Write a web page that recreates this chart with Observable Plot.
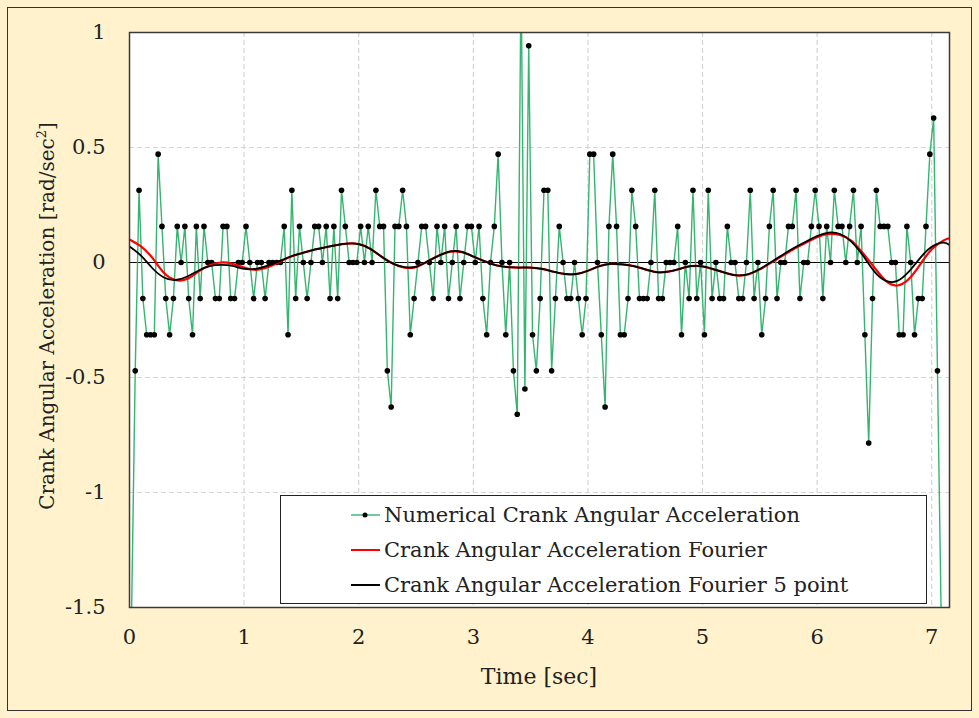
<!DOCTYPE html>
<html><head><meta charset="utf-8">
<script src="https://cdn.jsdelivr.net/npm/d3@7"></script>
<script src="https://cdn.jsdelivr.net/npm/@observablehq/plot@0.6"></script>
<style>
html,body{margin:0;padding:0;background:#fff;}
#wrap{position:relative;width:979px;height:718px;background:#FFF2CC;overflow:hidden;font-family:"DejaVu Serif",serif;color:#222;}
#border{position:absolute;left:7px;top:7px;width:965px;height:704px;border:1.5px solid #333;box-sizing:border-box;}
#chart{position:absolute;left:0;top:0;}
#xtitle{position:absolute;left:539px;top:676px;transform:translate(-50%,-50%);font-size:22px;white-space:nowrap;}
#ytitle{position:absolute;left:47px;top:316px;transform:translate(-50%,-50%) rotate(-90deg);font-size:20px;white-space:nowrap;}
#ytitle sup{font-size:13px;vertical-align:8px;line-height:0;}
#legend{position:absolute;left:280px;top:495px;width:647px;height:109px;border:1.5px solid #222;background:#fff;box-sizing:border-box;}
.row{position:absolute;left:70px;height:30px;display:flex;align-items:center;font-size:21px;white-space:nowrap;}
.row svg{margin-right:4px;}
</style>
</head><body>
<div id="wrap">
  <div id="border"></div>
  <div id="chart"></div>
  <div id="xtitle"></div>
  <div id="ytitle"></div>
  <div id="legend"></div>
</div>
<script>
// ---- data ----
const frameRate = 30;          // samples per second (time stamps at frame mid-points)
const numericalAccel = [
 -1.571,-0.471, 0.314,-0.157,-0.314,-0.314,-0.314, 0.471, 0.157,-0.157,
 -0.314,-0.157, 0.157, 0,     0.157,-0.157,-0.314, 0.157,-0.157, 0.157,
  0,     0,    -0.157,-0.157, 0.157, 0.157,-0.157,-0.157, 0,     0,
  0.157, 0,    -0.157, 0,     0,    -0.157, 0,     0,     0,     0,
  0.157,-0.314, 0.314,-0.157, 0.157, 0,    -0.157, 0,     0.157, 0.157,
  0,     0.157,-0.157, 0.157,-0.157, 0.314, 0.157, 0,     0,     0,
  0.157, 0,     0.157, 0,     0.314, 0.157, 0.157,-0.471,-0.628, 0.157,
  0.157, 0.314, 0.157,-0.314,-0.157, 0,     0.157, 0.157, 0,    -0.157,
  0.157, 0,     0.157,-0.157, 0,     0.157,-0.157, 0,     0.157, 0.157,
  0,     0.157,-0.157,-0.314, 0,     0.157, 0.471, 0,    -0.314, 0,
 -0.471,-0.660, 1.257,-0.550, 0.942,-0.314,-0.471,-0.157, 0.314, 0.314,
 -0.471,-0.157, 0.157, 0,    -0.157,-0.157, 0,    -0.157,-0.314,-0.157,
  0.471, 0.471, 0,    -0.314,-0.628, 0.157, 0.471, 0.157,-0.314,-0.314,
 -0.157, 0.314, 0.157,-0.157,-0.157,-0.157, 0,     0.314,-0.157,-0.157,
  0,     0,     0,     0.157,-0.314, 0,    -0.157, 0.314,-0.157, 0,
 -0.314, 0.314,-0.157, 0,    -0.157,-0.157, 0.157, 0,     0,    -0.157,
 -0.157, 0,     0.314,-0.157, 0,    -0.314,-0.157, 0.157, 0.314,-0.157,
  0,     0,     0.157, 0.157, 0.314,-0.157, 0,     0,     0.157, 0.314,
  0.157,-0.157, 0.157, 0,     0.314, 0.157, 0.157, 0,     0.157, 0.314,
  0,     0.157,-0.314,-0.785,-0.157, 0.314, 0.157, 0.157, 0.157, 0,
  0,    -0.314,-0.314, 0.157, 0,    -0.314,-0.157,-0.157, 0.157, 0.471,
  0.628,-0.471,-1.571
];
const fourierT = [0,0.1,0.2,0.3,0.4,0.5,0.6,0.7,0.8,0.9,1.0,1.1,1.2,1.3,1.4,1.5,1.6,1.7,1.8,1.9,
  2.0,2.1,2.2,2.3,2.4,2.5,2.6,2.7,2.8,2.9,3.0,3.1,3.2,3.3,3.4,3.5,3.6,3.7,3.8,3.9,
  4.0,4.1,4.2,4.3,4.4,4.5,4.6,4.7,4.8,4.9,5.0,5.1,5.2,5.3,5.4,5.5,5.6,5.7,5.8,5.9,
  6.0,6.1,6.2,6.3,6.4,6.5,6.6,6.7,6.8,6.9,7.0,7.1,7.155];
const fourierAccel = [0.100,0.070,0.020,-0.045,-0.076,-0.072,-0.040,-0.012,0.000,-0.006,-0.022,-0.032,-0.022,0.000,0.024,0.040,0.054,0.065,0.075,0.082,
  0.080,0.060,0.025,-0.005,-0.022,-0.020,0.004,0.030,0.047,0.045,0.026,0.005,-0.012,-0.020,-0.022,-0.022,-0.028,-0.040,-0.050,-0.050,
  -0.036,-0.016,-0.006,-0.008,-0.016,-0.030,-0.042,-0.040,-0.028,-0.016,-0.017,-0.030,-0.045,-0.056,-0.052,-0.030,0.000,0.030,0.060,0.086,
  0.110,0.124,0.120,0.094,0.040,-0.022,-0.080,-0.100,-0.072,-0.008,0.058,0.095,0.105];
const fourier5Accel = [0.070,0.030,-0.025,-0.065,-0.076,-0.062,-0.036,-0.016,-0.010,-0.015,-0.028,-0.028,-0.015,0.004,0.025,0.040,0.054,0.065,0.075,0.082,
  0.080,0.060,0.025,-0.005,-0.020,-0.018,0.005,0.030,0.048,0.046,0.026,0.005,-0.012,-0.020,-0.022,-0.022,-0.028,-0.040,-0.050,-0.050,
  -0.036,-0.016,-0.006,-0.008,-0.016,-0.030,-0.042,-0.040,-0.028,-0.016,-0.017,-0.030,-0.045,-0.056,-0.050,-0.028,0.002,0.034,0.064,0.090,
  0.115,0.130,0.124,0.090,0.030,-0.040,-0.080,-0.080,-0.040,0.020,0.068,0.086,0.076];
const xTicks = [0,1,2,3,4,5,6,7];
const yTicks = [-1.5,-1,-0.5,0,0.5,1];
const xMax = 7.155;
const seriesNames = ["Numerical Crank Angular Acceleration","Crank Angular Acceleration Fourier","Crank Angular Acceleration Fourier 5 point"];
const seriesColors = ["#35b56f","#ff0000","#000000"];

// ---- tables ----
const num = numericalAccel.map((v,i)=>({t:(i+0.5)/frameRate, v}));
const four = fourierT.map((t,i)=>({t, v:fourierAccel[i]}));
const four5 = fourierT.map((t,i)=>({t, v:fourier5Accel[i]}));

const chart = Plot.plot({
  width: 979, height: 718,
  marginLeft: 129, marginRight: 30, marginTop: 32, marginBottom: 111,
  style: {background:"transparent", fontFamily:"'DejaVu Serif', serif", fontSize:"21px", color:"#222"},
  x: {domain:[0,xMax]},
  y: {domain:[-1.5,1]},
  marks: [
    Plot.frame({fill:"white", stroke:"none"}),
    Plot.ruleX(xTicks.slice(1), {stroke:"#d6d6d6", strokeWidth:1.2, strokeDasharray:"5,3"}),
    Plot.ruleY(yTicks.slice(1,-1), {stroke:"#d6d6d6", strokeWidth:1.2, strokeDasharray:"5,3"}),
    Plot.ruleY([0], {stroke:"#000", strokeWidth:1}),
    Plot.line(num, {x:"t", y:"v", stroke:seriesColors[0], strokeWidth:1.4, clip:true}),
    Plot.dot(num, {x:"t", y:"v", r:2.8, fill:"#000", stroke:"none", clip:true}),
    Plot.line(four, {x:"t", y:"v", stroke:seriesColors[1], strokeWidth:2.2, curve:"natural", clip:true}),
    Plot.line(four5, {x:"t", y:"v", stroke:seriesColors[2], strokeWidth:1.8, curve:"natural", clip:true}),
    Plot.frame({stroke:"#3a3a3a", strokeWidth:1.5}),
    Plot.axisX(xTicks, {tickSize:0, tickPadding:22, tickFormat:d=>String(d), label:null}),
    Plot.axisY(yTicks, {tickSize:0, tickPadding:24, tickFormat:d=>String(d), label:null})
  ]
});
document.getElementById("chart").appendChild(chart);
document.getElementById("xtitle").textContent = "Time [sec]";
document.getElementById("ytitle").innerHTML = "Crank Angular Acceleration [rad/sec<sup>2</sup>]";

const leg = document.getElementById("legend");
seriesNames.forEach((name,i)=>{
  const row = document.createElement("div");
  row.className = "row";
  row.style.top = (4 + i*35) + "px";
  const dot = i===0 ? `<circle cx="14" cy="5" r="2.5" fill="#000"/>` : "";
  row.innerHTML = `<svg width="29" height="10"><line x1="0" y1="5" x2="29" y2="5" stroke="${seriesColors[i]}" stroke-width="${i===0?1.4:2}"/>${dot}</svg><span>${name}</span>`;
  leg.appendChild(row);
});
</script>
</body></html>
